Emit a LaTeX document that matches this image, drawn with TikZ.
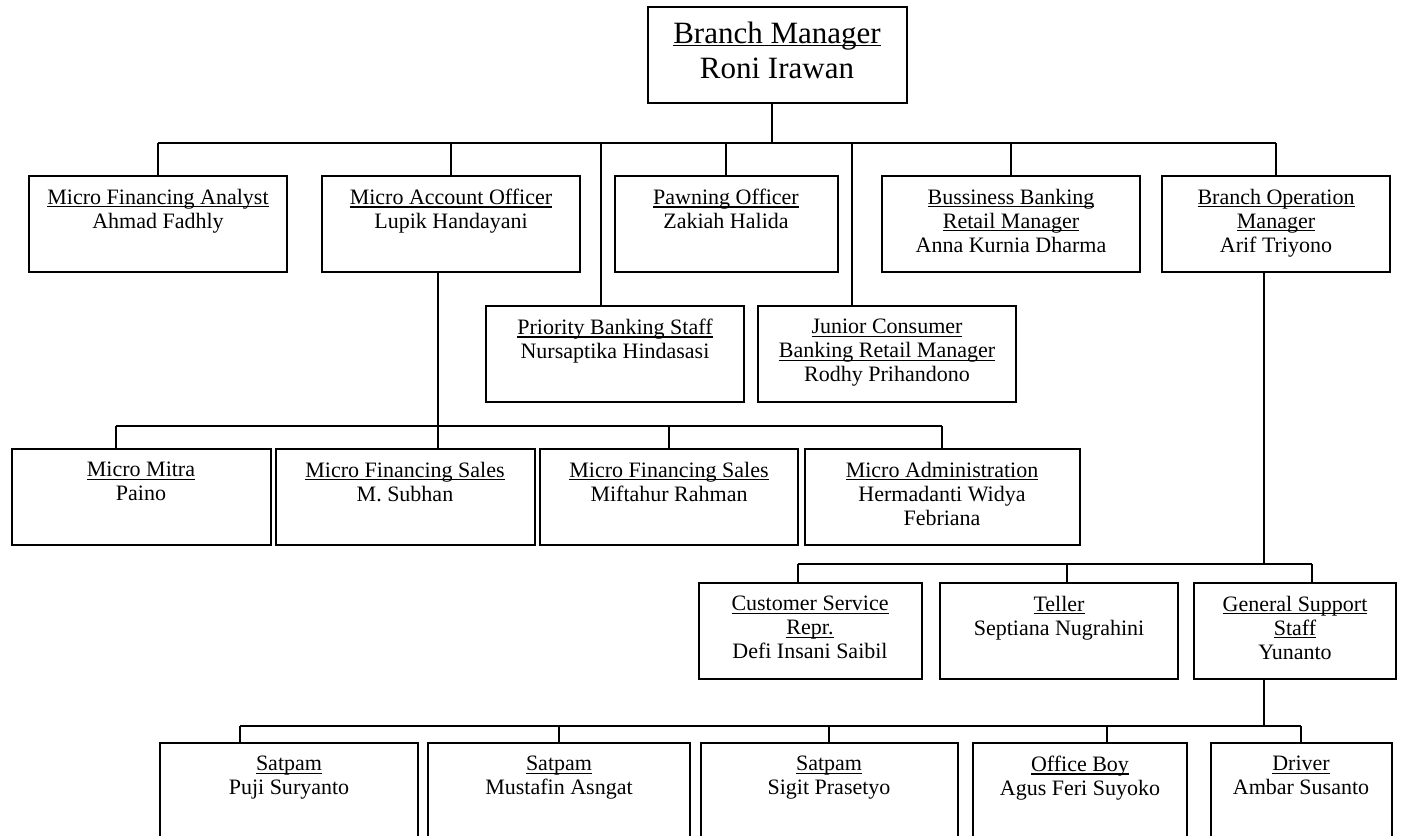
\documentclass[tikz,border=0pt]{standalone}
\usepackage{fontspec}
\setmainfont{Liberation Serif}
\usetikzlibrary{positioning}
\newcommand{\unitfont}{\fontsize{11}{12}\selectfont}
\newcommand{\headfont}{\fontsize{15.5}{17.5}\selectfont}
\newcommand{\ttl}[1]{\setbox0\hbox{#1}\rlap{\rule[-1.7pt]{\wd0}{0.7pt}}\box0}
\tikzset{
  post/.style={draw, line width=1pt, inner sep=0pt, align=center, minimum height=48pt,
              font=\unitfont, execute at begin node={\rule{0pt}{10.6pt}}, execute at end node=\strut},
  head/.style={post, font=\headfont, execute at begin node={\rule{0pt}{14.75pt}}},
  link/.style={line width=0.8pt},
}
\begin{document}
\begin{tikzpicture}[x=0.5pt,y=-0.5pt]
    \clip (0,0) rectangle (1401,835);
    \coordinate (bus1) at (0,143);
    \coordinate (bus2) at (0,426);
    \coordinate (bus3) at (0,564);
    \coordinate (bus4) at (0,726);
    % --- branch manager ---
    \node[head,minimum width=129.5pt] (bm) at (777,55) {\ttl{Branch Manager}\\Roni Irawan};
    % --- first line ---
    \node[post,minimum width=129pt] (mfa) at (158,224) {\ttl{Micro Financing Analyst}\\Ahmad Fadhly\\~};
    \node[post,minimum width=129pt] (mao) at (451,224) {\ttl{Micro Account Officer}\\Lupik Handayani\\~};
    \node[post,minimum width=111.5pt] (pwn) at (726,224) {\ttl{Pawning Officer}\\Zakiah Halida\\~};
    \node[post,minimum width=129pt] (bbr) at (1011,224)
      {\ttl{Bussiness Banking}\\\ttl{Retail Manager}\\Anna Kurnia Dharma};
    \node[post,minimum width=114pt] (bom) at (1276,224)
      {\ttl{Branch Operation}\\\ttl{Manager}\\Arif Triyono};
    \node[post,minimum width=129pt] (pbs) at (615,354) {\ttl{Priority Banking Staff}\\Nursaptika Hindasasi\\~};
    \node[post,minimum width=129pt] (jcb) at (887,354)
      {\ttl{Junior Consumer}\\\ttl{Banking Retail Manager}\\Rodhy Prihandono};
    % --- micro team ---
    \node[post,minimum width=129.5pt] (mm) at (141,497) {\ttl{Micro Mitra}\\Paino\\~};
    \node[post,minimum width=129.5pt] (mfs1) at (405,497) {\ttl{Micro Financing Sales}\\M. Subhan\\~};
    \node[post,minimum width=129pt] (mfs2) at (669,497) {\ttl{Micro Financing Sales}\\Miftahur Rahman\\~};
    \node[post,minimum width=137.5pt] (mad) at (942,497)
      {\ttl{Micro Administration}\\Hermadanti Widya\\Febriana};
    % --- operation team ---
    \node[post,minimum width=111.5pt] (csr) at (810,631)
      {\ttl{Customer Service}\\\ttl{Repr.}\\Defi Insani Saibil};
    \node[post,minimum width=119pt] (tel) at (1059,631) {\ttl{Teller}\\Septiana Nugrahini\\~};
    \node[post,minimum width=101pt] (gss) at (1295,631)
      {\ttl{General Support}\\\ttl{Staff}\\Yunanto};
    % --- support staff ---
    \node[post,minimum width=129pt] (sp1) at (289,791) {\ttl{Satpam}\\Puji Suryanto\\~};
    \node[post,minimum width=131pt] (sp2) at (559,791) {\ttl{Satpam}\\Mustafin Asngat\\~};
    \node[post,minimum width=128.5pt] (sp3) at (829,791) {\ttl{Satpam}\\Sigit Prasetyo\\~};
    \node[post,minimum width=107pt] (ofb) at (1080,791) {\ttl{Office Boy}\\Agus Feri Suyoko\\~};
    \node[post,minimum width=90.5pt] (drv) at (1301,791) {\ttl{Driver}\\Ambar Susanto\\~};
    % --- lines from the branch manager ---
    \coordinate (bmout) at ([xshift=-2.5pt]bm.south);
    \coordinate (pbsin) at ([xshift=-7pt]pbs.north);
    \coordinate (jcbin) at ([xshift=-17.5pt]jcb.north);
    \draw[link] (bmout) -- (bmout |- bus1);
    \draw[link] (mfa.north |- bus1) -- (bom.north |- bus1);
    \draw[link] (mfa.north) -- (mfa.north |- bus1);
    \draw[link] (mao.north) -- (mao.north |- bus1);
    \draw[link] (pbsin) -- (pbsin |- bus1);
    \draw[link] (pwn.north) -- (pwn.north |- bus1);
    \draw[link] (jcbin) -- (jcbin |- bus1);
    \draw[link] (bbr.north) -- (bbr.north |- bus1);
    \draw[link] (bom.north) -- (bom.north |- bus1);
    % --- lines from the micro account officer ---
    \coordinate (maoout) at ([xshift=-6.5pt]mao.south);
    \coordinate (mmin) at ([xshift=-12.5pt]mm.north);
    \draw[link] (maoout) -- (maoout |- mfs1.north);
    \draw[link] (mmin |- bus2) -- (mad.north |- bus2);
    \draw[link] (mmin) -- (mmin |- bus2);
    \draw[link] (mfs2.north) -- (mfs2.north |- bus2);
    \draw[link] (mad.north) -- (mad.north |- bus2);
    % --- lines from the branch operation manager ---
    \coordinate (bomout) at ([xshift=-6pt]bom.south);
    \coordinate (csrin) at ([xshift=-6pt]csr.north);
    \coordinate (telin) at ([xshift=4pt]tel.north);
    \coordinate (gssin) at ([xshift=8.5pt]gss.north);
    \draw[link] (bomout) -- (bomout |- bus3);
    \draw[link] (csrin |- bus3) -- (gssin |- bus3);
    \draw[link] (csrin) -- (csrin |- bus3);
    \draw[link] (telin) -- (telin |- bus3);
    \draw[link] (gssin) -- (gssin |- bus3);
    % --- lines from the general support staff ---
    \coordinate (gssout) at ([xshift=-15.5pt]gss.south);
    \coordinate (sp1in) at ([xshift=-24.5pt]sp1.north);
    \coordinate (ofbin) at ([xshift=13.5pt]ofb.north);
    \draw[link] (gssout) -- (gssout |- bus4);
    \draw[link] (sp1in |- bus4) -- (drv.north |- bus4);
    \draw[link] (sp1in) -- (sp1in |- bus4);
    \draw[link] (sp2.north) -- (sp2.north |- bus4);
    \draw[link] (sp3.north) -- (sp3.north |- bus4);
    \draw[link] (ofbin) -- (ofbin |- bus4);
    \draw[link] (drv.north) -- (drv.north |- bus4);
\end{tikzpicture}
\end{document}
